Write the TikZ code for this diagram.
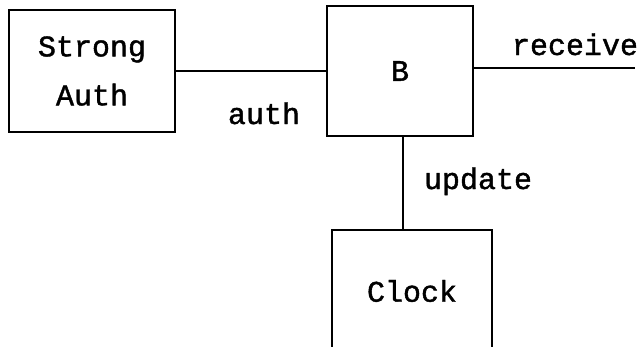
\documentclass[tikz,border=0pt]{standalone}
\usepackage{fontspec}
\setmonofont[FakeBold=1.3]{Liberation Mono}
\begin{document}
\begin{tikzpicture}[x=1pt, y=-1pt,
    box/.style={draw, line width=2.7pt, rectangle, inner sep=0pt, align=center,
                font=\ttfamily\fontsize{30}{49}\selectfont},
    wire/.style={line width=2.5pt},
    lbl/.style={anchor=base, inner sep=0pt, font=\ttfamily\fontsize{30}{36}\selectfont}]
  \useasboundingbox (0,0) rectangle (644,346);
  \clip (0,0) rectangle (644,346);

  % component boxes
  \node[box, minimum width=166, minimum height=122] (sa) at (92,71) {Strong\\Auth};
  \node[box, minimum width=146, minimum height=130] (b) at (400,71) {B};
  \node[box, minimum width=160, minimum height=122] (clk) at (412,291) {Clock};

  % connectors
  \coordinate (rx) at (635,68);
  \coordinate (ux) at (403,0);
  \draw[wire] (sa.east) -- (b.west);
  \draw[wire] (b.east |- rx) -- (rx);
  \draw[wire] (b.south -| ux) -- (clk.north -| ux);

  % channel labels
  \node[lbl] (lauth) at (264,124) {auth};
  \node[lbl] (lrecv) at (575,55) {receive};
  \node[lbl] (lupd) at (478,189) {update};
\end{tikzpicture}
\end{document}
